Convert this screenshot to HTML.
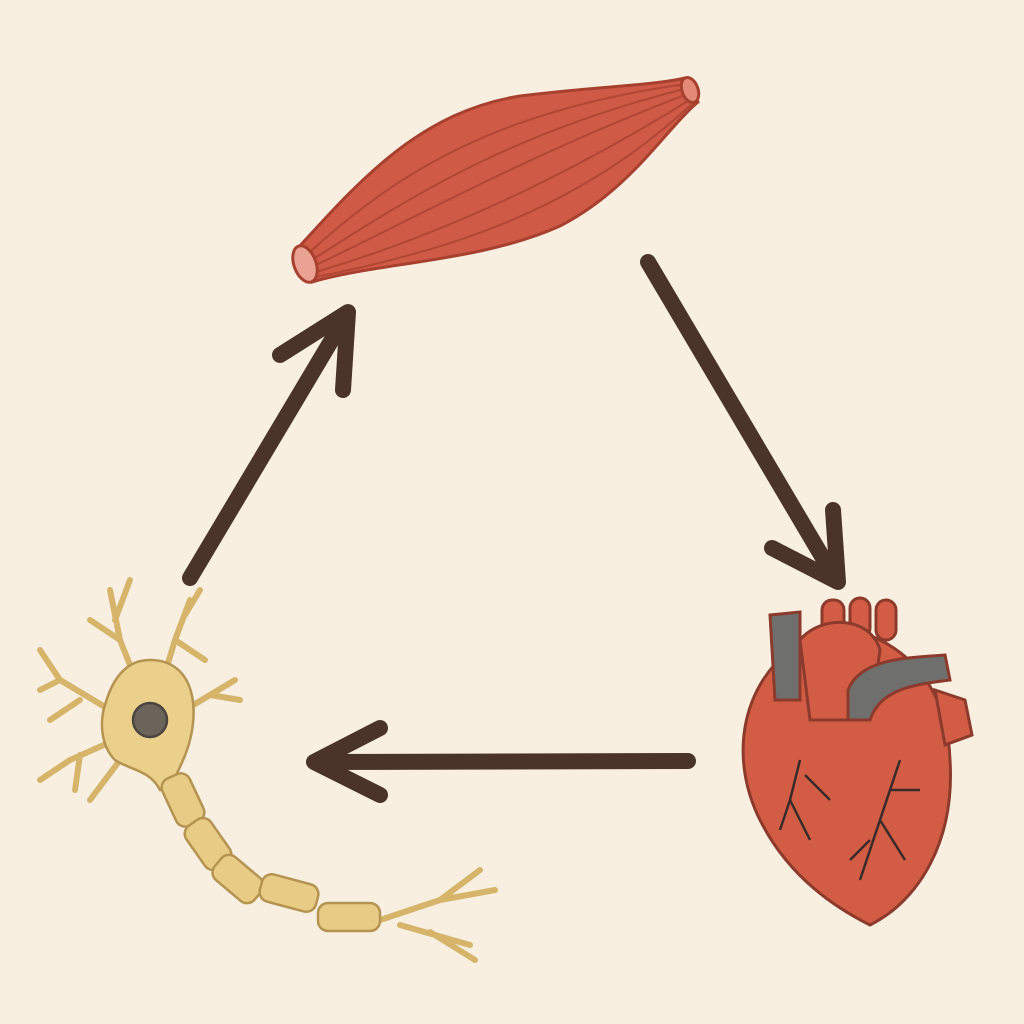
<!DOCTYPE html>
<html><head><meta charset="utf-8"><style>
html,body{margin:0;padding:0;background:#f8efe0;}
svg{display:block}
</style></head><body>
<svg width="1024" height="1024" viewBox="0 0 1024 1024" xmlns="http://www.w3.org/2000/svg">
<rect width="1024" height="1024" fill="#f8efe0"/>
<g stroke="#4a3329" stroke-width="16" stroke-linecap="round" stroke-linejoin="round" fill="none">
 <line x1="190" y1="578" x2="346" y2="316"/>
 <polyline points="280,355 348,312 343,390"/>
 <line x1="648" y1="262" x2="836" y2="580"/>
 <polyline points="772,548 838,582 833,510"/>
 <line x1="688" y1="761" x2="316" y2="762"/>
 <polyline points="380,728 314,762 380,795"/>
</g>
<!-- muscle -->
<g>
 <path d="M298,248 C360,180 420,112 520,96 C600,86 650,86 685,78 L698,102 C665,130 630,190 560,226 C480,262 380,262 312,282 Z" fill="#cf5a45" stroke="#a8402f" stroke-width="3"/>
 <g stroke="#a8402f" stroke-width="2" fill="none" opacity="0.75">
  <path d="M310,252 C400,170 500,110 686,84"/>
  <path d="M312,260 C420,190 520,130 688,88"/>
  <path d="M314,266 C430,210 540,150 690,93"/>
  <path d="M316,272 C440,235 560,180 693,98"/>
  <path d="M316,277 C450,250 580,210 695,101"/>
 </g>
 <ellipse cx="305" cy="264" rx="11" ry="19" transform="rotate(-20 305 264)" fill="#eaa393" stroke="#a8402f" stroke-width="3"/>
 <ellipse cx="690" cy="90" rx="8" ry="13" transform="rotate(-20 690 90)" fill="#e58a78" stroke="#a8402f" stroke-width="3"/>
</g>
<!-- heart -->
<g stroke="#8c3a2c" stroke-width="3">
 <path d="M790,650 C740,690 730,760 760,820 C790,880 840,910 870,925 C920,900 955,840 950,760 C948,700 920,660 880,640 C850,625 820,630 790,650 Z" fill="#d35c45"/>
 <path d="M770,615 L800,612 L800,700 L775,700 Z" fill="#6f6f6e"/>
 <rect x="822" y="600" width="22" height="40" rx="10" fill="#d35c45"/>
 <rect x="850" y="598" width="20" height="40" rx="10" fill="#d35c45"/>
 <rect x="876" y="600" width="20" height="40" rx="10" fill="#d35c45"/>
 <path d="M800,640 C820,615 870,615 880,650 L870,720 L810,720 Z" fill="#d35c45"/>
 <path d="M848,690 C860,660 900,658 945,655 L950,680 C910,685 880,690 870,720 L848,720 Z" fill="#6f6f6e"/>
 <path d="M935,690 L965,700 L972,735 L945,745 Z" fill="#d35c45"/>
 <g fill="none" stroke="#3b2a2a" stroke-width="2.5">
  <path d="M800,760 L790,800 L780,830 M790,800 L810,840 M805,775 L830,800"/>
  <path d="M900,760 L880,820 L860,880 M880,820 L905,860 M890,790 L920,790 M870,840 L850,860"/>
 </g>
</g>
<!-- neuron -->
<g stroke="#b59350" stroke-width="2.5">
 <g fill="none" stroke="#d6b46a" stroke-width="6" stroke-linecap="round">
  <path d="M140,690 L120,640 L110,590 M120,640 L90,620 M115,620 L130,580"/>
  <path d="M160,690 L175,640 L190,600 M175,640 L205,660 M185,615 L200,590"/>
  <path d="M185,710 L235,680 M210,695 L240,700"/>
  <path d="M110,710 L60,680 L40,650 M60,680 L40,690 M80,700 L50,720"/>
  <path d="M115,740 L70,760 L40,780 M80,755 L75,790 M120,760 L90,800"/>
  <path d="M380,920 L440,900 L480,870 M440,900 L495,890 M400,925 L470,945 M430,932 L475,960"/>
 </g>
 <path d="M150,660 C190,660 200,700 190,740 C185,760 175,775 170,790 L160,790 C150,770 130,770 115,760 C100,745 100,720 105,705 C112,680 125,660 150,660 Z" fill="#ead08a"/>
 <circle cx="150" cy="720" r="17" fill="#6b645a" stroke="#4a4540"/>
 <g fill="#e8cc85">
  <rect x="168" y="774" width="30" height="52" rx="10" transform="rotate(-25 183 800)"/>
  <rect x="193" y="818" width="30" height="52" rx="10" transform="rotate(-35 208 844)"/>
  <rect x="223" y="853" width="30" height="52" rx="10" transform="rotate(-50 238 879)"/>
  <rect x="260" y="879" width="58" height="28" rx="10" transform="rotate(15 289 893)"/>
  <rect x="318" y="903" width="62" height="28" rx="10"/>
 </g>
</g>
</svg>
</body></html>
